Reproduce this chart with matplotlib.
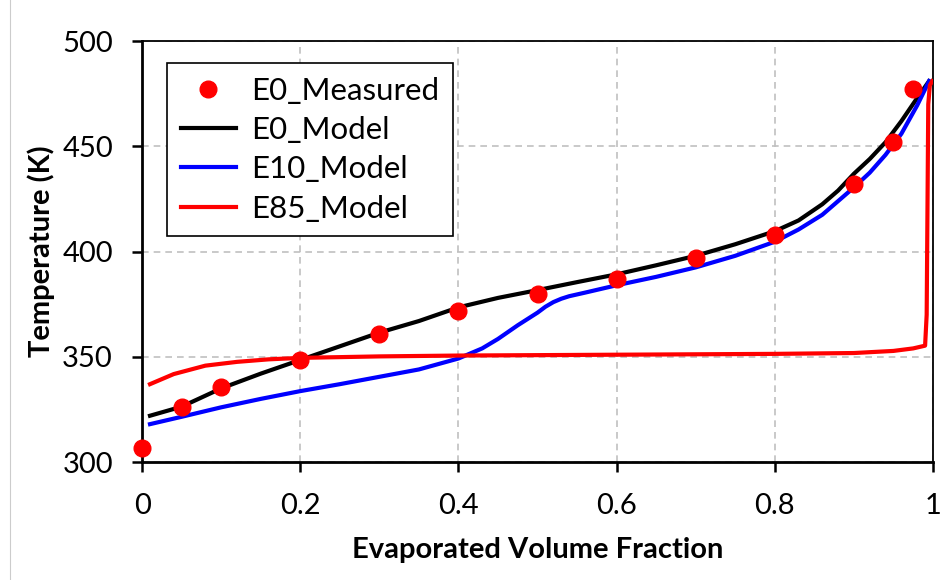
import matplotlib
matplotlib.use("Agg")
import matplotlib.pyplot as plt
from matplotlib.lines import Line2D

plt.rcParams['font.family'] = ['Lato', 'DejaVu Sans']

# measured E0 distillation points
meas_x = [0.0, 0.05, 0.1, 0.2, 0.3, 0.4, 0.5, 0.6, 0.7, 0.8, 0.9, 0.95, 0.975]
meas_t = [306.6, 326, 335.5, 348.5, 361, 372, 380, 387, 397, 408, 432, 452, 477.5]

# E0 model
e0_x = [0.01, 0.05, 0.1, 0.15, 0.2, 0.25, 0.3, 0.35, 0.4, 0.45, 0.5, 0.55, 0.6,
        0.65, 0.7, 0.75, 0.8, 0.83, 0.86, 0.88, 0.9, 0.92, 0.94, 0.96, 0.98, 0.995]
e0_t = [322, 326.3, 335, 342, 348.5, 355, 361.5, 367, 373.5, 378, 381.7, 385.5, 389.2,
        393.5, 398, 403.5, 409.7, 414.8, 422.5, 429, 437, 444, 452, 462, 473, 481]

# E10 model
e10_x = [0.01, 0.05, 0.1, 0.15, 0.2, 0.25, 0.3, 0.35, 0.4, 0.43, 0.45, 0.475, 0.5,
         0.51, 0.52, 0.53, 0.54, 0.56, 0.6, 0.65, 0.7, 0.75, 0.8, 0.83, 0.86, 0.88,
         0.9, 0.92, 0.94, 0.96, 0.98, 0.995]
e10_t = [318, 321.5, 326, 330, 333.7, 337, 340.5, 344, 349.2, 354, 358.5, 365, 371,
         373.8, 376, 377.6, 378.8, 380.5, 384, 388, 392.5, 398, 404.7, 410.5, 417.5,
         424, 430.5, 437.5, 446, 456, 469.5, 481]

# E85 model
e85_x = [0.01, 0.04, 0.08, 0.12, 0.16, 0.2, 0.3, 0.4, 0.6, 0.8, 0.9, 0.95, 0.975,
         0.99, 0.992, 0.993, 0.994, 0.996, 0.999]
e85_t = [337, 341.8, 345.8, 347.6, 348.8, 349.5, 350.2, 350.6, 351, 351.4, 351.8,
         352.8, 354, 355.3, 370, 420, 470, 479, 481]

fig = plt.figure(figsize=(9.41, 5.8), dpi=100)
ax = fig.add_axes([0.151, 0.2034, 0.8405, 0.7256])

ax.plot(meas_x, meas_t, 'o', color='#ff0000', markersize=12, label='E0_Measured',
        clip_on=False, zorder=5)
ax.plot(e0_x, e0_t, color='black', linewidth=3, label='E0_Model', zorder=3)
ax.plot(e10_x, e10_t, color='#0000ff', linewidth=3, label='E10_Model', zorder=3)
ax.plot(e85_x, e85_t, color='#ff0000', linewidth=3, label='E85_Model', zorder=4)

ax.set_xlim(0, 1)
ax.set_ylim(300, 500)
ax.set_xticks([0, 0.2, 0.4, 0.6, 0.8, 1])
ax.set_xticklabels(['0', '0.2', '0.4', '0.6', '0.8', '1'])
ax.set_yticks([300, 350, 400, 450, 500])
ax.grid(True, color='#c0c0c0', linestyle=(0, (4, 3)), linewidth=1.2)
ax.set_axisbelow(True)

ax.tick_params(direction='out', length=7, width=1.8, labelsize=21)
ax.tick_params(axis='x', pad=15.5)
ax.tick_params(axis='y', pad=14)
for side in ['left', 'bottom']:
    ax.spines[side].set_linewidth(2)
for side in ['top', 'right']:
    ax.spines[side].set_linewidth(1.3)

ax.set_xlabel('Evaporated Volume Fraction', fontsize=21, fontweight='bold', labelpad=13)
ax.set_ylabel('Temperature (K)', fontsize=21, fontweight='bold', labelpad=5)

leg = ax.legend(loc='upper left', bbox_to_anchor=(0.0316, 0.948), borderaxespad=0,
                fontsize=22.5, fancybox=False, edgecolor='black', framealpha=1,
                handlelength=1.75, borderpad=0.44, labelspacing=0.36,
                handletextpad=0.5)
leg.get_frame().set_linewidth(1.2)

fig.add_artist(Line2D([0.011, 0.011], [0, 1], transform=fig.transFigure,
                      color='#cccccc', linewidth=0.8))

fig.savefig('out.png', dpi=100)
